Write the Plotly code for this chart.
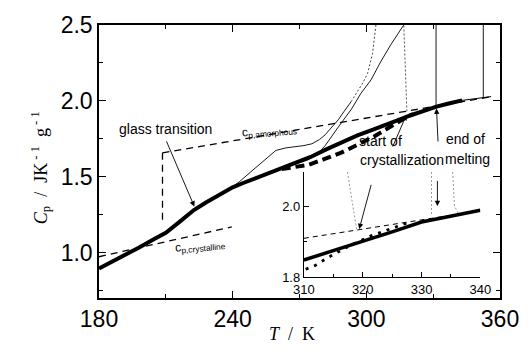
import plotly.graph_objects as go

# ---------------- data ----------------
# main measured heat capacity (thick solid)
main_T = [180, 190, 197.6, 205, 210, 216, 222.6, 228, 234.4, 240, 245, 252, 260, 268, 275,
          282, 289, 296, 303, 310, 316, 320, 326, 331.5, 337, 343]
main_Cp = [0.895, 0.97, 1.03, 1.09, 1.13, 1.20, 1.28, 1.33, 1.38, 1.43, 1.46, 1.50, 1.54, 1.585, 1.63,
           1.68, 1.728, 1.772, 1.81, 1.846, 1.882, 1.905, 1.938, 1.962, 1.982, 2.003]
# thin continuation after melting
tail_T = [343, 352.5, 356]
tail_Cp = [2.003, 2.02, 2.028]
# bold dashed curve
bold_T = [262, 268, 274, 281, 289, 296, 303.5, 310, 315.3, 318, 321]
bold_Cp = [1.55, 1.565, 1.578, 1.615, 1.66, 1.71, 1.765, 1.822, 1.872, 1.893, 1.912]
# thin solid heating curve A
a_T = [254, 262.3, 268, 274, 278, 281.5, 287.4, 293.3, 297.6, 302.1, 306.5, 310.9, 315.3, 316.8]
a_Cp = [1.515, 1.557, 1.585, 1.612, 1.65, 1.704, 1.827, 1.945, 2.05, 2.138, 2.259, 2.368, 2.467, 2.5]
# thin bumpy heating curve B (lower solid part, upper dotted part)
b_low_T = [241, 243.2, 248, 252, 256, 259.4, 264, 268, 272, 275.6, 279, 281.5, 284, 287.4, 290, 293.2]
b_low_Cp = [1.445, 1.469, 1.53, 1.58, 1.63, 1.673, 1.69, 1.697, 1.705, 1.717, 1.745, 1.776, 1.82,
            1.875, 1.93, 1.995]
b_up_T = [293.2, 296.2, 298.5, 300.6, 302.8, 304.3]
b_up_Cp = [1.995, 2.061, 2.12, 2.182, 2.314, 2.5]
# thin dotted crystallisation curve
c_T = [318.2, 317.5, 316.8]
c_Cp = [1.93, 2.2, 2.5]
# melting spikes
melt_T = [331.3, 331.3, None, 352.5, 352.5]
melt_Cp = [2.5, 1.965, None, 2.5, 2.02]
# reference lines
amorph_T = [208.5, 356]
amorph_Cp = [1.657, 2.027]
cryst_T = [180, 239.6]
cryst_Cp = [0.972, 1.169]
step_T = [208.5, 208.5]
step_Cp = [1.657, 1.184]

# inset data
in_thick_T = [310, 315, 320, 325, 330, 335, 340]
in_thick_Cp = [1.848, 1.874, 1.901, 1.927, 1.955, 1.971, 1.988]
in_dot_T = [310.3, 312, 314.2, 316, 318, 321.4, 325.3, 328]
in_dot_Cp = [1.822, 1.833, 1.856, 1.872, 1.89, 1.916, 1.94, 1.955]
in_amorph_T = [310, 340]
in_amorph_Cp = [1.909, 1.987]
in_cryst_T = [317.4, 318, 318.6, 319]
in_cryst_Cp = [2.096, 2.03, 1.97, 1.93]
in_melt_T = [331.7, 331.7, None, 335.3, 335.6, 336.3]
in_melt_Cp = [2.096, 1.972, None, 2.096, 2.0, 1.978]

x_ticks_main = [180, 240, 300, 360]
y_ticks_main = [1.0, 1.5, 2.0, 2.5]

# ---------------- figure ----------------
fig = go.Figure()
K = "black"

def line(x, y, width, dash="solid", color=K, ax="x", ay="y"):
    fig.add_trace(go.Scatter(x=x, y=y, mode="lines", xaxis=ax, yaxis=ay,
                             line=dict(color=color, width=width, dash=dash),
                             hoverinfo="skip", showlegend=False))

line(amorph_T, amorph_Cp, 1.3, "7px,5px")
line(cryst_T, cryst_Cp, 1.3, "7px,5px")
line(step_T, step_Cp, 1.3, "7px,5px")
line(a_T, a_Cp, 0.9)
line(b_low_T, b_low_Cp, 0.9)
line(b_up_T, b_up_Cp, 1.0, "2px,2px", "#444")
line(c_T, c_Cp, 1.0, "2px,2px", "#555")
line(melt_T, melt_Cp, 0.9)
line(tail_T, tail_Cp, 1.0)
line(bold_T, bold_Cp, 4, "9px,5px")
line(main_T, main_Cp, 4)

line(in_amorph_T, in_amorph_Cp, 1.0, "5px,4px", K, "x2", "y2")
line(in_cryst_T, in_cryst_Cp, 1.0, "2px,2px", "#999", "x2", "y2")
line(in_melt_T, in_melt_Cp, 1.0, "2px,2px", "#999", "x2", "y2")
line(in_dot_T, in_dot_Cp, 2.8, "3px,6px", K, "x2", "y2")
line(in_thick_T, in_thick_Cp, 3.5, "solid", K, "x2", "y2")

tickfont = dict(family="Liberation Sans, Arial, sans-serif", size=23, color=K)
small_font = dict(family="Liberation Sans, Arial, sans-serif", size=13, color=K)

fig.update_layout(
    width=531, height=355,
    margin=dict(l=99, r=23, t=25, b=57),
    paper_bgcolor="white", plot_bgcolor="white",
    showlegend=False,
    xaxis=dict(domain=[0, 1], range=[180, 360], tickvals=x_ticks_main,
               ticks="inside", ticklen=7, tickwidth=1.3, tickcolor=K,
               showline=True, linewidth=1.5, linecolor=K, mirror="ticks",
               minor=dict(dtick=30, tick0=0, ticks="inside", ticklen=4, tickwidth=1.2, tickcolor=K),
               showgrid=False, zeroline=False, tickfont=tickfont),
    yaxis=dict(domain=[0, 1], range=[0.7, 2.5], tickvals=y_ticks_main, tickformat=".1f",
               ticks="inside", ticklen=7, tickwidth=1.3, tickcolor=K,
               showline=True, linewidth=1.5, linecolor=K, mirror="ticks",
               minor=dict(dtick=0.25, tick0=0, ticks="inside", ticklen=4, tickwidth=1.2, tickcolor=K),
               showgrid=False, zeroline=False, tickfont=tickfont),
    xaxis2=dict(domain=[0.511, 0.951], anchor="y2", range=[310, 340], tick0=310, dtick=10,
                ticks="inside", ticklen=5, tickwidth=1, tickcolor=K,
                showline=True, linewidth=1.2, linecolor=K, mirror=False,
                minor=dict(dtick=5, tick0=310, ticks="inside", ticklen=3, tickwidth=1, tickcolor=K),
                showgrid=False, zeroline=False, tickfont=small_font),
    yaxis2=dict(domain=[0.077, 0.4615], anchor="x2", range=[1.8, 2.096], tick0=1.8, dtick=0.2,
                tickformat=".1f", ticks="inside", ticklen=5, tickwidth=1, tickcolor=K,
                showline=True, linewidth=1.2, linecolor=K, mirror=False,
                minor=dict(dtick=0.1, tick0=1.8, ticks="inside", ticklen=3, tickwidth=1, tickcolor=K),
                showgrid=False, zeroline=False, tickfont=small_font),
)

serif = dict(family="Liberation Serif, Times New Roman, serif", size=18, color=K)
lab = dict(family="Liberation Sans, Arial, sans-serif", size=14, color=K)
ann = []
# axis titles
ann.append(dict(xref="paper", yref="paper", x=0.482, y=-0.176, showarrow=False,
                text="<i>T</i>\u00a0 /\u00a0 K", font=serif))
ann.append(dict(xref="paper", yref="paper", x=-0.183, y=0.476, showarrow=False, textangle=-90,
                text="<i>C</i><sub>p</sub>\u00a0 /\u00a0 JK<sup> -\u00a01</sup>\u00a0 g<sup> -\u00a01</sup>",
                font=serif))
# labels
ann.append(dict(x=210.0, y=1.816, text="glass transition", showarrow=False, font=lab))
ann.append(dict(x=295.8, y=1.735, text="start of", showarrow=False, font=lab, xanchor="left"))
ann.append(dict(x=296.2, y=1.61, text="crystallization", showarrow=False, font=lab, xanchor="left"))
ann.append(dict(x=334.8, y=1.748, text="end of", showarrow=False, font=lab, xanchor="left"))
ann.append(dict(x=334.4, y=1.615, text="melting", showarrow=False, font=lab, xanchor="left"))
ann.append(dict(x=243.0, y=1.8, text="c<sub>p,amorphous</sub>", showarrow=False, textangle=-5,
                xanchor="left", font=dict(family="Liberation Sans, Arial, sans-serif", size=12, color=K)))
ann.append(dict(x=213.0, y=1.04, text="c<sub>p,crystalline</sub>", showarrow=False, textangle=-6,
                xanchor="left", font=dict(family="Liberation Sans, Arial, sans-serif", size=12, color=K)))

def arrow(x, y, axx, ayy, xr="x", yr="y"):
    ann.append(dict(x=x, y=y, ax=axx, ay=ayy, xref=xr, yref=yr, axref=xr, ayref=yr,
                    text="", showarrow=True, arrowhead=2, arrowsize=1.2, arrowwidth=0.9,
                    arrowcolor=K, standoff=0, startstandoff=0))

arrow(222.8, 1.303, 210.0, 1.743)
arrow(318.0, 1.908, 311.6, 1.689)
arrow(331.5, 1.95, 332.2, 1.722)
arrow(319.4, 1.935, 321.5, 2.064, "x2", "y2")
arrow(332.7, 2.0, 332.7, 2.075, "x2", "y2")

fig.update_layout(annotations=ann)
fig.write_html(
    "out.html",
    config={"displayModeBar": False},
    post_script="document.body.style.margin='0';document.body.style.padding='0';"
                "document.body.style.overflow='hidden';"
                "document.documentElement.style.overflow='hidden';",
)
